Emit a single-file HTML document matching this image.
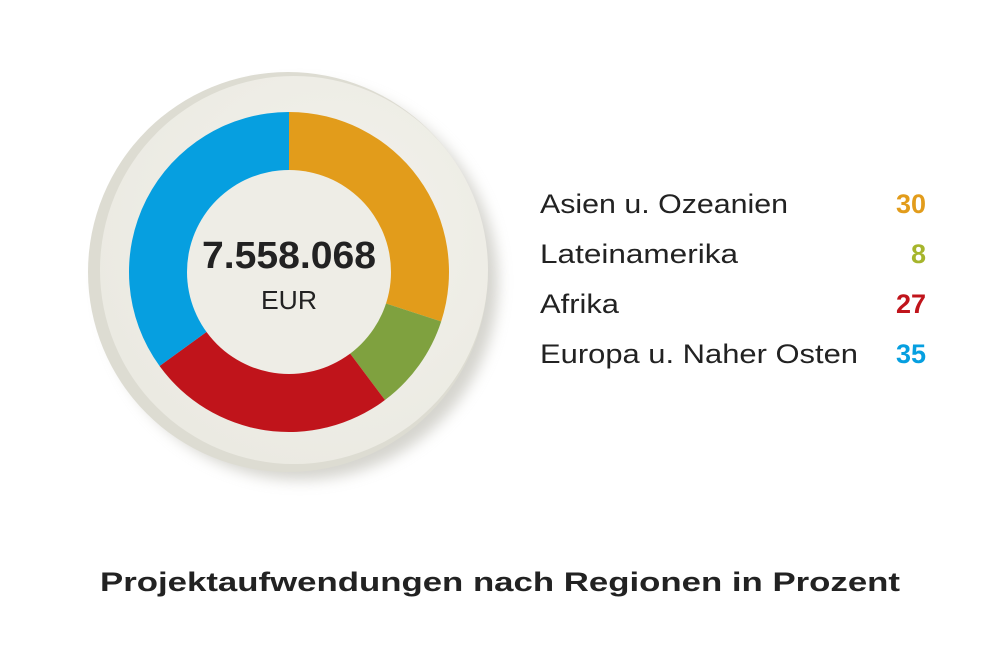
<!DOCTYPE html>
<html><head><meta charset="utf-8"><style>
body{margin:0;background:#fff;width:1000px;height:666px;overflow:hidden;font-family:"Liberation Sans","DejaVu Sans",sans-serif}
</style></head><body>
<svg width="1000" height="666" xmlns="http://www.w3.org/2000/svg">
<defs>
<filter id="sh" x="-20%" y="-20%" width="150%" height="150%"><feGaussianBlur stdDeviation="7"/></filter>
<radialGradient id="pl" cx="0.6" cy="0.4" r="0.7"><stop offset="0" stop-color="#f3f2ec"/><stop offset="1" stop-color="#eae9e1"/></radialGradient>
</defs>
<circle cx="300" cy="282" r="198" fill="#b9b8ae" opacity="0.6" filter="url(#sh)"/>
<circle cx="288" cy="272" r="200" fill="#dddcd2"/>
<circle cx="294" cy="270" r="194" fill="url(#pl)"/>
<g transform="translate(289,272)">
<path d="M0,-160 A160,160 0 0 1 152.17,49.44 L0,0Z" fill="#e29c1b"/>
<path d="M152.17,49.44 A160,160 0 0 1 95.94,128.05 L0,0Z" fill="#7fa13f"/>
<path d="M95.94,128.05 A160,160 0 0 1 -129.44,94.05 L0,0Z" fill="#c0141b"/>
<path d="M-129.44,94.05 A160,160 0 0 1 0,-160 L0,0Z" fill="#069fe0"/>
<circle r="102" fill="#eeede6"/>
<text x="0" y="-4" text-anchor="middle" font-size="38" font-weight="bold" fill="#222" textLength="174" lengthAdjust="spacingAndGlyphs">7.558.068</text>
<text x="0" y="37" text-anchor="middle" font-size="26" fill="#222" textLength="56" lengthAdjust="spacingAndGlyphs">EUR</text>
</g>
<g font-size="27" fill="#222" lengthAdjust="spacingAndGlyphs">
<text x="540" y="213" textLength="248" lengthAdjust="spacingAndGlyphs">Asien u. Ozeanien</text>
<text x="540" y="263" textLength="198" lengthAdjust="spacingAndGlyphs">Lateinamerika</text>
<text x="540" y="313" textLength="79" lengthAdjust="spacingAndGlyphs">Afrika</text>
<text x="540" y="363" textLength="318" lengthAdjust="spacingAndGlyphs">Europa u. Naher Osten</text>
</g>
<g font-size="27" font-weight="bold" text-anchor="end">
<text x="926" y="213" fill="#e29c1b">30</text>
<text x="926" y="263" fill="#a6b52c">8</text>
<text x="926" y="313" fill="#c0141b">27</text>
<text x="926" y="363" fill="#069fe0">35</text>
</g>
<text x="100" y="591" font-size="27" font-weight="bold" fill="#222" textLength="800" lengthAdjust="spacingAndGlyphs">Projektaufwendungen nach Regionen in Prozent</text>
</svg>
</body></html>
